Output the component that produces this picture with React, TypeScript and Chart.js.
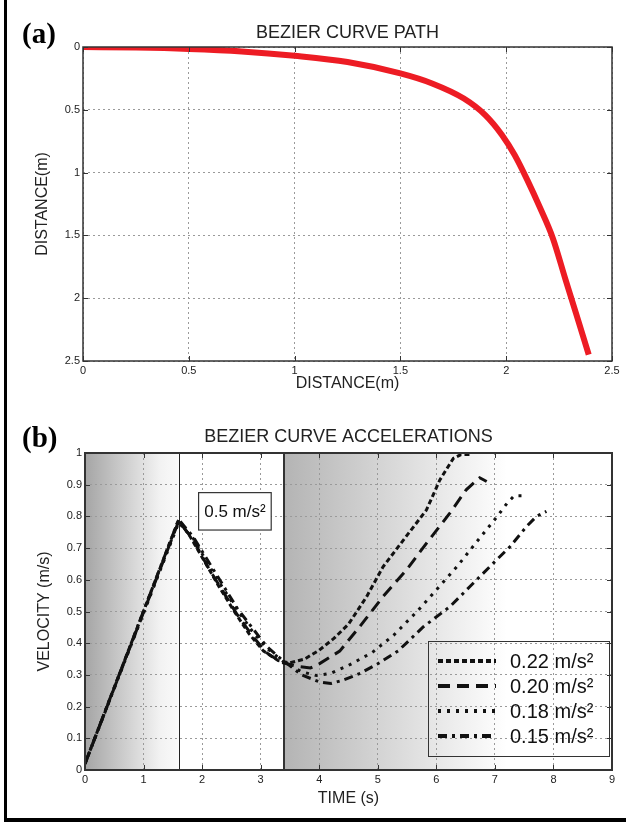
import React, { useEffect, useRef } from 'react';
import { Chart, registerables } from 'chart.js';

Chart.register(...registerables);

const FONT = '"Liberation Sans", Arial, Helvetica, sans-serif';
const NARROW = '"Liberation Sans Narrow", "Liberation Sans", Arial, sans-serif';

// ---------- (a) Bezier curve path ----------
const pathX = [0, 0.25, 0.5, 0.75, 1.0, 1.25, 1.5, 1.65, 1.8, 1.9, 1.98, 2.04, 2.1, 2.16, 2.22, 2.28, 2.33, 2.39];
const pathY = [0, 0.004, 0.015, 0.035, 0.07, 0.12, 0.21, 0.29, 0.41, 0.54, 0.7, 0.86, 1.06, 1.28, 1.52, 1.85, 2.12, 2.45];

// ---------- (b) Bezier curve accelerations ----------
const t22 = [0, 1.6, 1.8, 2.05, 2.3, 2.55, 2.8, 3.05, 3.3, 3.5, 3.75, 4.0, 4.25, 4.5, 4.81, 5.09, 5.44, 5.83, 6.06, 6.29, 6.42, 6.6];
const v22 = [0.02, 0.79, 0.735, 0.655, 0.575, 0.5, 0.43, 0.375, 0.345, 0.338, 0.35, 0.378, 0.415, 0.46, 0.547, 0.641, 0.726, 0.82, 0.915, 0.983, 0.995, 0.995];

const t20 = [0, 1.6, 1.85, 2.1, 2.35, 2.6, 2.85, 3.1, 3.35, 3.6, 3.85, 4.0, 4.35, 4.69, 5.09, 5.49, 5.83, 6.23, 6.51, 6.74, 6.86];
const v20 = [0.02, 0.785, 0.725, 0.64, 0.565, 0.49, 0.425, 0.37, 0.34, 0.328, 0.322, 0.335, 0.375, 0.452, 0.547, 0.631, 0.715, 0.81, 0.884, 0.922, 0.91];

const t18 = [0, 1.6, 1.85, 2.1, 2.35, 2.6, 2.85, 3.1, 3.4, 3.7, 3.95, 4.2, 4.5, 4.9, 5.27, 5.67, 6.01, 6.35, 6.69, 7.04, 7.21, 7.33, 7.5];
const v18 = [0.02, 0.78, 0.73, 0.65, 0.575, 0.505, 0.44, 0.385, 0.34, 0.31, 0.298, 0.305, 0.33, 0.37, 0.425, 0.5, 0.57, 0.641, 0.72, 0.8, 0.842, 0.865, 0.865];

const t15 = [0, 1.6, 1.85, 2.1, 2.35, 2.6, 2.85, 3.1, 3.35, 3.7, 4.0, 4.2, 4.4, 4.7, 5.0, 5.35, 5.78, 6.23, 6.57, 6.97, 7.26, 7.54, 7.71, 7.88];
const v15 = [0.02, 0.79, 0.735, 0.66, 0.585, 0.51, 0.45, 0.39, 0.35, 0.3, 0.278, 0.273, 0.283, 0.305, 0.335, 0.376, 0.452, 0.515, 0.578, 0.652, 0.705, 0.768, 0.8, 0.816];

const seriesLabels = ['0.22 m/s²', '0.20 m/s²', '0.18 m/s²', '0.15 m/s²'];

// phase boundaries (s) and annotation
const ACCEL_END = 1.6;
const CRUISE_END = 3.4;
const FADE_END = 7.2;
const NOTE_TEXT = '0.5 m/s²';
const NOTE_X = [1.94, 3.18];
const NOTE_Y = [0.757, 0.875];

const toPts = (xs: number[], ys: number[]) => xs.map((x, i) => ({ x, y: ys[i] }));
const fmt = (v: any) => String(+Number(v).toFixed(1));

const framePlugin = {
  id: 'frame',
  afterDraw(chart: any, _args: any, opts: any) {
    const { ctx, chartArea, scales } = chart;
    const { left, right, top, bottom } = chartArea;
    const x = scales.x, y = scales.y;
    ctx.save();
    ctx.strokeStyle = opts.color || '#333';
    ctx.lineWidth = 1;
    const L = 5;
    ctx.beginPath();
    x.ticks.forEach((t: any) => {
      const px = Math.round(x.getPixelForValue(t.value)) + 0.5;
      ctx.moveTo(px, bottom); ctx.lineTo(px, bottom - L);
      ctx.moveTo(px, top); ctx.lineTo(px, top + L);
    });
    y.ticks.forEach((t: any) => {
      const py = Math.round(y.getPixelForValue(t.value)) + 0.5;
      ctx.moveTo(left, py); ctx.lineTo(left + L, py);
      ctx.moveTo(right, py); ctx.lineTo(right - L, py);
    });
    ctx.stroke();
    ctx.lineWidth = opts.width || 1.5;
    ctx.strokeRect(left, top, right - left, bottom - top);
    ctx.restore();
  },
};

const shadePlugin = {
  id: 'shade',
  beforeDraw(chart: any) {
    const { ctx, chartArea, scales } = chart;
    const { top, bottom, right } = chartArea;
    const x = scales.x;
    const xa = x.getPixelForValue(0);
    const xb = x.getPixelForValue(ACCEL_END);
    const xc = x.getPixelForValue(CRUISE_END);
    const xd = x.getPixelForValue(FADE_END);
    ctx.save();
    let g = ctx.createLinearGradient(xa, 0, xb, 0);
    g.addColorStop(0, '#a5a5a5');
    g.addColorStop(0.8, '#f2f2f2');
    g.addColorStop(1, '#fafafa');
    ctx.fillStyle = g;
    ctx.fillRect(xa, top, xb - xa, bottom - top);
    g = ctx.createLinearGradient(xc, 0, xd, 0);
    g.addColorStop(0, '#b4b4b4');
    g.addColorStop(1, '#ffffff');
    ctx.fillStyle = g;
    ctx.fillRect(xc, top, right - xc, bottom - top);
    ctx.restore();
  },
  beforeDatasetsDraw(chart: any) {
    const { ctx, chartArea, scales } = chart;
    const { top, bottom } = chartArea;
    const x = scales.x;
    ctx.save();
    ctx.strokeStyle = '#222';
    ctx.lineWidth = 1;
    const p1 = Math.round(x.getPixelForValue(ACCEL_END)) + 0.5;
    ctx.beginPath(); ctx.moveTo(p1, top); ctx.lineTo(p1, bottom); ctx.stroke();
    ctx.strokeStyle = '#333';
    ctx.lineWidth = 2;
    const p2 = Math.round(x.getPixelForValue(CRUISE_END));
    ctx.beginPath(); ctx.moveTo(p2, top); ctx.lineTo(p2, bottom); ctx.stroke();
    ctx.restore();
  },
  afterDatasetsDraw(chart: any) {
    const { ctx, chartArea, scales } = chart;
    const x = scales.x, y = scales.y;
    ctx.save();
    // annotation box
    const ax0 = x.getPixelForValue(NOTE_X[0]), ax1 = x.getPixelForValue(NOTE_X[1]);
    const ay0 = y.getPixelForValue(NOTE_Y[1]), ay1 = y.getPixelForValue(NOTE_Y[0]);
    ctx.fillStyle = '#ffffff';
    ctx.fillRect(ax0, ay0, ax1 - ax0, ay1 - ay0);
    ctx.strokeStyle = '#333';
    ctx.lineWidth = 1.2;
    ctx.strokeRect(ax0, ay0, ax1 - ax0, ay1 - ay0);
    ctx.fillStyle = '#111';
    ctx.font = `17px ${NARROW}`;
    ctx.textAlign = 'center';
    ctx.textBaseline = 'middle';
    ctx.fillText(NOTE_TEXT, (ax0 + ax1) / 2, (ay0 + ay1) / 2 + 1);

    // legend box
    const bw = 181, bh = 115;
    const bx = chartArea.right - 184, by = chartArea.bottom - 129;
    ctx.strokeStyle = '#333';
    ctx.lineWidth = 1;
    ctx.strokeRect(bx + 0.5, by + 0.5, bw, bh);
    ctx.textAlign = 'left';
    ctx.font = `20px ${FONT}`;
    chart.data.datasets.forEach((ds: any, i: number) => {
      const cy = by + 20 + i * 25;
      ctx.setLineDash(ds.borderDash || []);
      ctx.lineWidth = 4;
      ctx.strokeStyle = ds.borderColor;
      ctx.beginPath(); ctx.moveTo(bx + 10, cy); ctx.lineTo(bx + 68, cy); ctx.stroke();
      ctx.setLineDash([]);
      ctx.fillStyle = '#111';
      ctx.fillText(ds.label, bx + 82, cy + 1);
    });
    ctx.restore();
  },
};

const tickFont = { family: FONT, size: 11 };
const titleFont = { family: FONT, size: 18, weight: 'normal' as const };
const axisTitleFont = { family: FONT, size: 16, weight: 'normal' as const };

export default function App() {
  const refA = useRef<HTMLCanvasElement>(null);
  const refB = useRef<HTMLCanvasElement>(null);

  useEffect(() => {
    const chartA = new Chart(refA.current as HTMLCanvasElement, {
      type: 'line',
      data: {
        datasets: [
          {
            label: 'Bezier path',
            data: toPts(pathX, pathY),
            borderColor: '#ed1c24',
            borderWidth: 6,
            pointRadius: 0,
            cubicInterpolationMode: 'monotone',
            fill: false,
          },
        ],
      },
      options: {
        animation: false,
        responsive: false,
        layout: { padding: { left: 0, right: 14, top: 0, bottom: 0 } },
        plugins: {
          legend: { display: false },
          tooltip: { enabled: false },
          title: {
            display: true,
            text: 'BEZIER CURVE PATH',
            fullSize: false,
            font: titleFont,
            color: '#222',
            padding: { top: 22, bottom: 3.4 },
          },
          frame: { color: '#333', width: 1.5 },
        } as any,
        scales: {
          x: {
            type: 'linear',
            min: 0,
            max: 2.5,
            ticks: { stepSize: 0.5, font: tickFont, color: '#222', padding: 3, maxRotation: 0, callback: fmt },
            grid: { color: '#9a9a9a', drawTicks: false },
            border: { display: false, dash: [2, 3] },
            title: { display: true, text: 'DISTANCE(m)', font: axisTitleFont, color: '#222', padding: { top: 0, bottom: 7 } },
            afterFit: (s: any) => { s.height = 39; },
          },
          y: {
            type: 'linear',
            reverse: true,
            min: 0,
            max: 2.5,
            ticks: { stepSize: 0.5, font: tickFont, color: '#222', padding: 3, callback: fmt },
            grid: { color: '#9a9a9a', drawTicks: false },
            border: { display: false, dash: [2, 3] },
            title: { display: true, text: 'DISTANCE(m)', font: axisTitleFont, color: '#222', padding: { top: 33, bottom: 0 } },
            afterFit: (s: any) => { s.width = 83; },
          },
        },
      },
      plugins: [framePlugin],
    } as any);

    const dsStyle = (label: string, dash: number[], xs: number[], ys: number[]) => ({
      label,
      data: toPts(xs, ys),
      borderColor: '#111',
      borderWidth: 3,
      borderDash: dash,
      pointRadius: 0,
      tension: 0,
      fill: false,
    });

    const chartB = new Chart(refB.current as HTMLCanvasElement, {
      type: 'line',
      data: {
        datasets: [
          dsStyle(seriesLabels[0], [5, 3], t22, v22),
          dsStyle(seriesLabels[1], [12, 7], t20, v20),
          dsStyle(seriesLabels[2], [3, 6], t18, v18),
          dsStyle(seriesLabels[3], [9, 5, 3, 5], t15, v15),
        ],
      },
      options: {
        animation: false,
        responsive: false,
        layout: { padding: { left: 0, right: 14, top: 0, bottom: 0 } },
        plugins: {
          legend: { display: false },
          tooltip: { enabled: false },
          title: {
            display: true,
            text: 'BEZIER CURVE ACCELERATIONS',
            fullSize: false,
            font: titleFont,
            color: '#222',
            padding: { top: 26, bottom: 5.4 },
          },
          frame: { color: '#333', width: 2 },
        } as any,
        scales: {
          x: {
            type: 'linear',
            min: 0,
            max: 9,
            ticks: { stepSize: 1, font: tickFont, color: '#222', padding: 3, maxRotation: 0, callback: fmt },
            grid: { color: '#9a9a9a', drawTicks: false },
            border: { display: false, dash: [2, 3] },
            title: { display: true, text: 'TIME (s)', font: axisTitleFont, color: '#222', padding: { top: 0, bottom: 12 } },
            afterFit: (s: any) => { s.height = 50; },
          },
          y: {
            type: 'linear',
            min: 0,
            max: 1,
            ticks: { stepSize: 0.1, font: tickFont, color: '#222', padding: 3, callback: fmt },
            grid: { color: '#9a9a9a', drawTicks: false },
            border: { display: false, dash: [2, 3] },
            title: { display: true, text: 'VELOCITY (m/s)', font: axisTitleFont, color: '#222', padding: { top: 35, bottom: 0 } },
            afterFit: (s: any) => { s.width = 85; },
          },
        },
      },
      plugins: [shadePlugin, framePlugin],
    } as any);

    return () => {
      chartA.destroy();
      chartB.destroy();
    };
  }, []);

  const panelLabel: React.CSSProperties = {
    position: 'absolute',
    left: 22,
    fontFamily: '"Liberation Serif", "Times New Roman", serif',
    fontWeight: 'bold',
    fontSize: 29,
    lineHeight: '29px',
    color: '#000',
  };

  return (
    <div style={{ position: 'absolute', left: 0, top: 0, width: 626, height: 826, background: '#fff', overflow: 'hidden' }}>
      <canvas ref={refA} width={626} height={400} style={{ position: 'absolute', left: 0, top: 0 }} />
      <canvas ref={refB} width={626} height={420} style={{ position: 'absolute', left: 0, top: 400 }} />
      <div style={{ position: 'absolute', left: 4, top: 0, width: 3, height: 822, background: '#000' }} />
      <div style={{ position: 'absolute', left: 4, top: 818, width: 622, height: 4, background: '#000' }} />
      <div style={{ ...panelLabel, top: 19 }}>(a)</div>
      <div style={{ ...panelLabel, top: 423 }}>(b)</div>
    </div>
  );
}
